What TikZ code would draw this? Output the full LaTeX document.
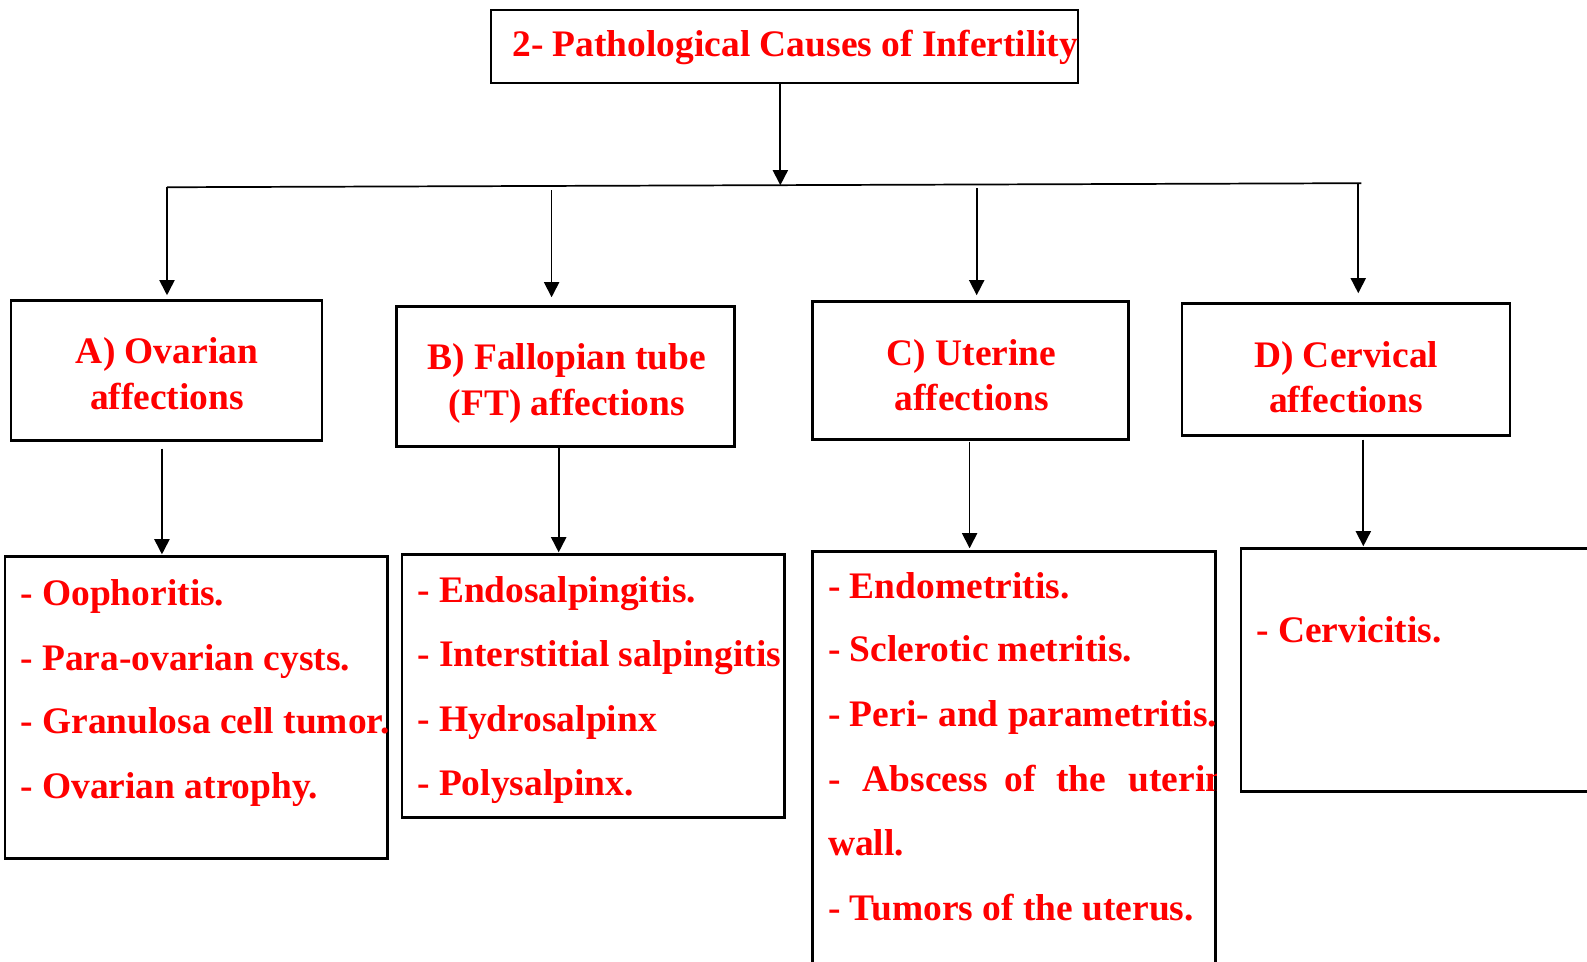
\documentclass[tikz,border=0pt]{standalone}
\usepackage{fontspec}
\setmainfont{Liberation Serif}
\usetikzlibrary{arrows.meta}
\definecolor{txtred}{RGB}{255,0,0}
\begin{document}
\begin{tikzpicture}[x=1pt,y=-1pt,
  box/.style={draw=black,line width=2.6pt,rectangle,inner sep=0pt},
  conn/.style={draw=black,line width=1.7pt},
  arr/.style={conn,-{Triangle[width=15pt,length=15pt]}},
  lbl/.style={text=txtred,font=\fontsize{37}{44}\selectfont\bfseries,inner sep=0pt,anchor=base},
  item/.style={lbl,anchor=base west}]
\useasboundingbox (0,0) rectangle (1568,950);
\clip (0,0) rectangle (1568,950);

% boxes
\node[box,minimum width=580pt,minimum height=72pt] (T) at (775,46) {};
\node[box,minimum width=307pt,minimum height=138pt] (A) at (164.5,366) {};
\node[box,minimum width=334pt,minimum height=138pt] (B) at (559,372) {};
\node[box,minimum width=312pt,minimum height=136pt] (C) at (959,366) {};
\node[box,minimum width=324pt,minimum height=130pt] (D) at (1330,365) {};
\node[box,minimum width=378pt,minimum height=298pt] (LA) at (194,699) {};
\node[box,minimum width=378pt,minimum height=260pt] (LB) at (586,678) {};
\node[box,minimum width=398pt,minimum height=455pt] (LC) at (1002,772.5) {};
\node[box,minimum width=394pt,minimum height=240pt] (LD) at (1423,662) {};

% titles
\node[lbl,anchor=base west] (Tt) at (506,56) {2- Pathological Causes of Infertility};
\node[lbl] (A1) at (165,359) {A) Ovarian};
\node[lbl] (A2) at (165,405) {affections};
\node[lbl] (B1) at (560,365) {B) Fallopian tube};
\node[lbl] (B2) at (560,411) {(FT) affections};
\node[lbl] (C1) at (960,361) {C) Uterine};
\node[lbl] (C2) at (960,406) {affections};
\node[lbl] (D1) at (1330,363) {D) Cervical};
\node[lbl] (D2) at (1330,408) {affections};

% connectors
\coordinate (bus0) at (165,185);
\coordinate (bus1) at (1345,181);
\coordinate (busT) at (771,183);
\coordinate (busB) at (545,188);
\coordinate (busC) at (965,186);
\coordinate (busD) at (1342,182);
\draw[conn] (bus0) -- (bus1);
\draw[arr] (T.south -| busT) -- (busT);
\draw[arr,shorten >=4pt] (bus0) -- (bus0 |- A.north);
\draw[arr,shorten >=8pt] (busB) -- (busB |- B.north);
\draw[arr,shorten >=5pt] (busC) -- (busC |- C.north);
\draw[arr,shorten >=9pt] (busD) -- (busD |- D.north);

\coordinate (xA) at (160,0);
\coordinate (xB) at (552,0);
\coordinate (xC) at (958,0);
\coordinate (xD) at (1347,0);
\draw[arr,shorten <=7pt,shorten >=1pt] (A.south -| xA) -- (LA.north -| xA);
\draw[arr,shorten >=1pt] (B.south -| xB) -- (LB.north -| xB);
\draw[arr,shorten <=1pt,shorten >=2pt] (C.south -| xC) -- (LC.north -| xC);
\draw[arr,shorten <=3pt,shorten >=1pt] (D.south -| xD) -- (LD.north -| xD);

% lists
\begin{scope}
\clip (LA.north west) rectangle (LA.south east);
\node[item] (a1) at (20,598) {- Oophoritis.};
\node[item] (a2) at (20,662) {- Para-ovarian cysts.};
\node[item] (a3) at (20,725) {- Granulosa cell tumor.};
\node[item] (a4) at (20,789) {- Ovarian atrophy.};
\end{scope}
\begin{scope}
\clip (LB.north west) rectangle (LB.south east);
\node[item] (b1) at (412,595) {- Endosalpingitis.};
\node[item] (b2) at (412,659) {- Interstitial salpingitis};
\node[item] (b3) at (412,723) {- Hydrosalpinx};
\node[item] (b4) at (412,786) {- Polysalpinx.};
\end{scope}
\begin{scope}
\clip (LC.north west) rectangle (LC.south east);
\node[item] (c1) at (818,591) {- Endometritis.};
\node[item] (c2) at (818,654) {- Sclerotic metritis.};
\node[item] (c3) at (818,718) {- Peri- and parametritis.};
\node[item] (c4) at (818,782) {-\hspace{22pt}Abscess\hspace{17pt}of\hspace{20pt}the\hspace{22pt}uterine};
\node[item] (c5) at (818,845) {wall.};
\node[item] (c6) at (818,909) {- Tumors of the uterus.};
\end{scope}
\begin{scope}
\clip (LD.north west) rectangle (LD.south east);
\node[item] (d1) at (1241,635) {- Cervicitis.};
\end{scope}
\end{tikzpicture}
\end{document}
